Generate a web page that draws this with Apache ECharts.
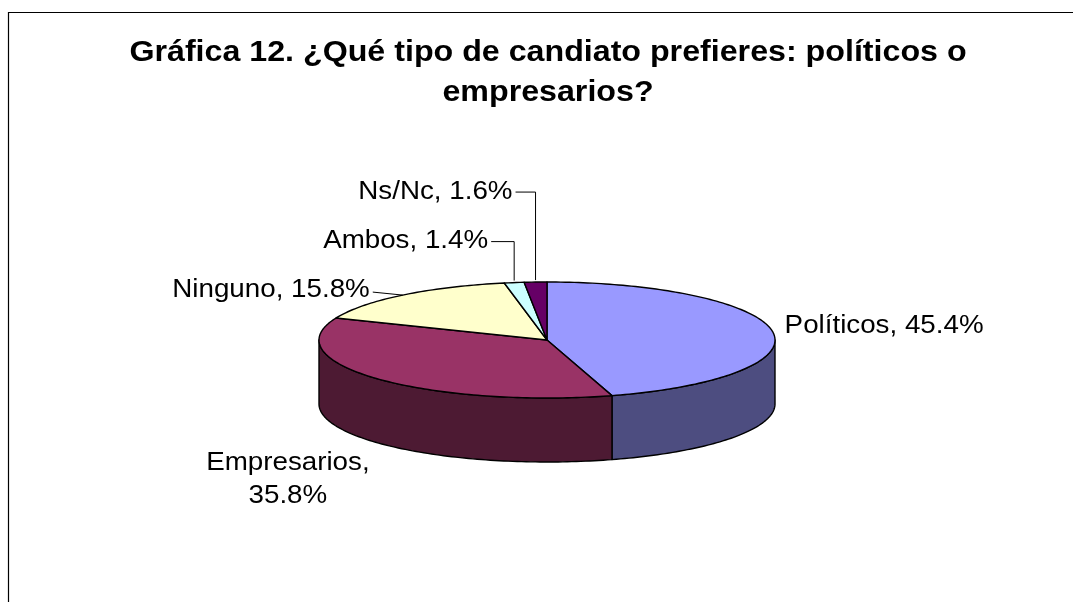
<!DOCTYPE html>
<html>
<head>
<meta charset="utf-8">
<title>Gráfica 12</title>
<script src="https://cdn.jsdelivr.net/npm/echarts@6/dist/echarts.min.js"></script>
<style>
  html, body { margin: 0; padding: 0; background: #fff; }
  #chart { width: 1073px; height: 602px; }
</style>
</head>
<body>
<div id="chart"></div>
<script>
// Datos de la gráfica
const categories = ['Políticos', 'Empresarios', 'Ninguno', 'Ambos', 'Ns/Nc'];
const values = [45.4, 35.8, 15.8, 1.4, 1.6];
const titleLines = ['Gráfica 12. ¿Qué tipo de candiato prefieres: políticos o', 'empresarios?'];

// Colores (cara superior / lateral)
const topColors = ['#9999FF', '#993366', '#FFFFCC', '#CCFFFF', '#660066'];
const sideColors = ['#4D4D80', '#4D1A33', '#80806A', '#6A8080', '#330033'];

// Geometria del pastel 3D
const pie = { cx: 547, cy: 340, rx: 228, ry: 58, depth: 64 };
const FONT = '"Liberation Sans", Arial, sans-serif';
const TEXT_SCALE = 1.11;

// Posicion de etiquetas relativa al borde del sector
const labelLayout = {
  'Políticos':   { dx: 12,  dy: -6,  align: 'left' },
  'Empresarios': { dx: -90, dy: 37,  align: 'center', onSide: true, wrap: true },
  'Ninguno':     { dx: -33, dy: -5,  align: 'right', leader: 'straight' },
  'Ambos':       { dx: -26, dy: -41, align: 'right', leader: 'elbow' },
  'Ns/Nc':       { dx: -23, dy: -90, align: 'right', leader: 'elbow' }
};

const total = values.reduce((a, b) => a + b, 0);

const pt = (theta, dz) => [
  pie.cx + pie.rx * Math.sin(theta),
  pie.cy - pie.ry * Math.cos(theta) + (dz || 0)
];

const arc = (a, b, dz) => {
  const steps = Math.max(2, Math.ceil(Math.abs(b - a) / 0.02));
  const pts = [];
  for (let i = 0; i <= steps; i++) {
    pts.push(pt(a + (b - a) * i / steps, dz));
  }
  return pts;
};

const renderItem = (params, api) => {
  const i = params.dataIndex;
  const before = values.slice(0, i).reduce((a, b) => a + b, 0);
  const a = before / total * Math.PI * 2;
  const b = (before + values[i]) / total * Math.PI * 2;
  const mid = (a + b) / 2;
  const children = [];
  const outline = { stroke: '#000', lineWidth: 1.4, lineJoin: 'round' };

  // pared lateral visible (mitad frontal)
  const s = Math.max(a, Math.PI / 2);
  const e = Math.min(b, Math.PI * 1.5);
  if (s < e) {
    children.push({
      type: 'polygon',
      shape: { points: arc(s, e, 0).concat(arc(e, s, pie.depth)) },
      style: Object.assign({ fill: sideColors[i] }, outline)
    });
  }

  // cara superior
  children.push({
    type: 'polygon',
    shape: { points: [[pie.cx, pie.cy]].concat(arc(a, b, 0)) },
    style: Object.assign({ fill: topColors[i] }, outline)
  });

  // etiqueta
  const name = categories[i];
  const lay = labelLayout[name];
  const onSide = lay.onSide && Math.cos(mid) < 0;
  const edge = pt(mid, onSide ? pie.depth : 0);
  const tx = edge[0] + lay.dx;
  const ty = edge[1] + lay.dy;
  const pct = values[i].toFixed(1) + '%';
  children.push({
    type: 'text',
    x: tx,
    y: ty,
    scaleX: TEXT_SCALE,
    style: {
      text: lay.wrap ? name + ',\n' + pct : name + ', ' + pct,
      fill: '#000',
      fontSize: 25,
      fontFamily: FONT,
      lineHeight: 33,
      align: lay.align,
      verticalAlign: 'middle'
    }
  });

  if (lay.leader === 'straight') {
    children.push({
      type: 'polyline',
      shape: { points: [[tx + 3, ty + 2], edge] },
      style: { stroke: '#000', lineWidth: 1, fill: null }
    });
  } else if (lay.leader === 'elbow') {
    children.push({
      type: 'polyline',
      shape: { points: [[tx + 3, ty], [edge[0], ty], [edge[0], edge[1] - 2]] },
      style: { stroke: '#000', lineWidth: 1, fill: null }
    });
  }

  return { type: 'group', children: children };
};

const chart = echarts.init(document.getElementById('chart'));

chart.setOption({
  animation: false,
  backgroundColor: '#fff',
  graphic: [
    {
      type: 'rect',
      shape: { x: 8.5, y: 12.5, width: 1200, height: 800 },
      style: { fill: null, stroke: '#000', lineWidth: 1.2 },
      silent: true
    }
  ].concat(titleLines.map((t, k) => ({
    type: 'text',
    x: 548,
    y: 53 + k * 40,
    scaleX: TEXT_SCALE,
    style: {
      text: t,
      fill: '#000',
      fontSize: 29,
      fontWeight: 'bold',
      fontFamily: FONT,
      align: 'center',
      verticalAlign: 'middle'
    }
  }))),
  series: [
    {
      type: 'custom',
      coordinateSystem: 'none',
      silent: true,
      renderItem: renderItem,
      data: categories.map((c, i) => ({ name: c, value: values[i] }))
    }
  ]
});

window.addEventListener('resize', () => chart.resize());
</script>
</body>
</html>
